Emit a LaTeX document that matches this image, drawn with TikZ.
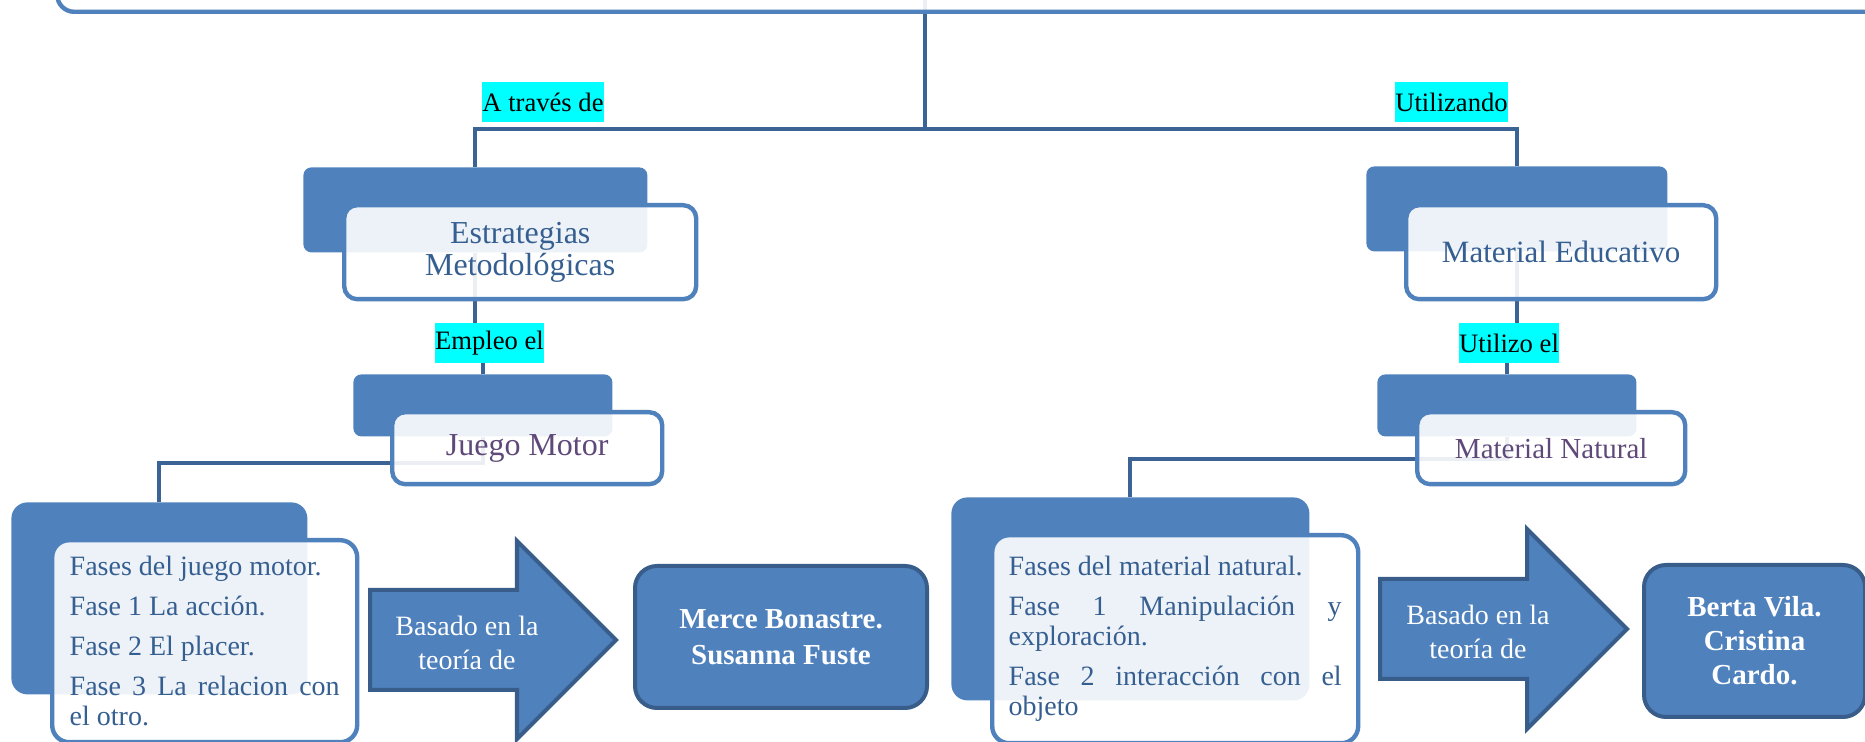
\documentclass[tikz,border=0pt]{standalone}
\usepackage{fontspec}
\setmainfont{Liberation Serif}
\usepackage{tikz}
\usetikzlibrary{shapes.arrows,positioning,calc}

\definecolor{accentblue}{HTML}{4F81BD}
\definecolor{edgeblue}{HTML}{385D8A}
\definecolor{linkblue}{HTML}{3C6396}
\definecolor{titleblue}{HTML}{365F91}
\definecolor{titlepurple}{HTML}{5F497A}
\definecolor{hilite}{HTML}{00FFFF}

\pgfdeclarelayer{back}
\pgfsetlayers{back,main}
\hyphenpenalty=10000
\tolerance=10000

\tikzset{
  darkbox/.style={fill=accentblue, rounded corners=4pt, anchor=north west, inner sep=0pt},
  lightbox/.style={draw=accentblue, line width=2.2pt, fill=white, fill opacity=0.9, text opacity=1,
    rounded corners=6.5pt, anchor=north west, inner sep=0pt},
  titletext/.style={text=titleblue, align=center, font=\fontsize{16}{16}\selectfont},
  subtext/.style={text=titlepurple, align=center, font=\fontsize{16}{16}\selectfont},
  listtext/.style={text=titleblue, align=justify, font=\fontsize{14}{15}\selectfont},
  tag/.style={fill=hilite, text=black, inner xsep=0pt, inner ysep=0pt, minimum height=20pt,
    font=\fontsize{13.3}{15}\selectfont},
  link/.style={draw=linkblue, line width=2pt},
  bigarrow/.style={single arrow, draw=edgeblue, line width=2pt, fill=accentblue,
    single arrow tip angle=90, inner xsep=0pt, inner ysep=24pt, anchor=tail},
  arrowtext/.style={text=white, align=center, font=\fontsize{14}{17}\selectfont},
  namebox/.style={draw=edgeblue, line width=2pt, fill=accentblue, rounded corners=11pt,
    anchor=north west, text=white, align=center, inner sep=0pt,
    font=\bfseries\fontsize{14.5}{18}\selectfont}
}

\begin{document}
\begin{tikzpicture}[x=0.5pt,y=-0.5pt]
\useasboundingbox (0,0) rectangle (1865,742);

\node[lightbox, anchor=south west, rounded corners=8.5pt, minimum width=1000pt, minimum height=60pt] (root) at (55,14) {};
\coordinate (hub) at (925,129);

\node[darkbox, minimum width=172pt, minimum height=42.5pt] (estD) at (303,167) {};
\node[lightbox, titletext, minimum width=176pt, minimum height=47pt] (estL) at (342,203) {Estrategias\\Metodológicas};
\node[darkbox, minimum width=150.5pt, minimum height=42.5pt] (matD) at (1366,166) {};
\node[lightbox, titletext, font=\fontsize{15.5}{16}\selectfont, minimum width=155pt, minimum height=47pt] (matL) at (1404,203) {Material Educativo};

\node[tag] (atraves) at (543,102) {A través de};
\node[tag] (utilizando) at (1451.5,102) {Utilizando};
\node[tag] (empleo) at (489.5,343) {Empleo el};
\node[tag] (utilizo) at (1509,343) {Utilizo el};

\node[darkbox, minimum width=129.5pt, minimum height=31pt] (juegoD) at (353,374) {};
\node[lightbox, subtext, minimum width=135pt, minimum height=36pt] (juegoL) at (390,410) {Juego Motor};
\node[darkbox, minimum width=129.5pt, minimum height=31pt] (natD) at (1377,374) {};
\node[lightbox, subtext, font=\fontsize{14.5}{16}\selectfont, minimum width=134pt, minimum height=36pt] (natL) at (1415,410) {Material Natural};

\node[darkbox, rounded corners=8pt, minimum width=148pt, minimum height=96pt] (fasesJD) at (11,502) {};
\node[lightbox, listtext, rounded corners=8.5pt, text width=135pt, minimum width=152.5pt, minimum height=101pt] (fasesJL) at (50,538)
  {Fases del juego motor.\\[5pt]Fase 1 La acción.\\[5pt]Fase 2 El placer.\\[5pt]Fase 3 La relacion con\linebreak el otro.};
\node[darkbox, rounded corners=8pt, minimum width=179pt, minimum height=101.5pt] (fasesMD) at (951,497) {};
\node[lightbox, listtext, rounded corners=8.5pt, text width=166.5pt, minimum width=183pt, minimum height=104pt] (fasesML) at (990,533)
  {Fases del material natural.\\[5pt]Fase 1 Manipulación y\linebreak exploración.\\[5pt]Fase 2 interacción con el\linebreak objeto};

\node[bigarrow, minimum height=123pt, minimum width=97pt, single arrow head extend=24.5pt] (arrowA) at (368,640) {};
\node[arrowtext] (basadoA) at (467,643) {Basado en la\\teoría de};
\node[namebox, minimum width=146pt, minimum height=71pt] (merce) at (633,564) {Merce Bonastre.\\Susanna Fuste};

\node[bigarrow, minimum height=123.5pt, minimum width=98.5pt, single arrow head extend=25pt] (arrowB) at (1378,629) {};
\node[arrowtext] (basadoB) at (1478,632) {Basado en la\\teoría de};
\node[namebox, font=\bfseries\fontsize{14.5}{17}\selectfont, minimum width=110.5pt, minimum height=76pt] (berta) at (1642,563) {Berta Vila.\\Cristina\\Cardo.};

\begin{pgfonlayer}{back}
\draw[link] (hub |- root.center) -- (hub);
\draw[link] (estD.north) |- (hub) -| (matD.north);
\draw[link] (estD.south) -- (estD.south |- empleo.center) -| (juegoD.north);
\draw[link] (matD.south) -- (matD.south |- utilizo.center) -| (natD.north);
\draw[link] (juegoD.south) -- ++(0,26) -| (fasesJD.north);
\draw[link] (natD.south) -- ++(0,22) -| (fasesMD.north);
\end{pgfonlayer}
\end{tikzpicture}
\end{document}
